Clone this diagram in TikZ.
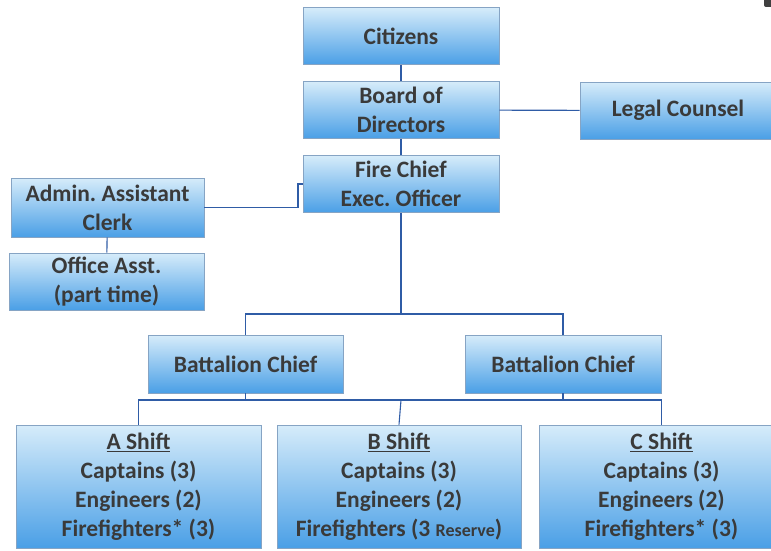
\documentclass[tikz,border=0pt]{standalone}
\usepackage{fontspec}
\setmainfont{Carlito}
\frenchspacing
\definecolor{txt}{HTML}{3A3A3A}
\definecolor{lnk}{HTML}{2F5CA6}
\definecolor{bord}{HTML}{86A4C4}
\definecolor{topc}{HTML}{D6ECFA}
\definecolor{botc}{HTML}{4A9FE6}
\begin{document}
\begin{tikzpicture}[x=1pt,y=-1pt,
  box/.style={draw=bord, line width=0.8pt, top color=topc, bottom color=botc,
    text=txt, font=\fontsize{23.5}{29}\selectfont\bfseries\frenchspacing, align=center,
    inner sep=0pt, minimum width=196pt, minimum height=57pt},
  shiftbox/.style={box, minimum width=245pt, minimum height=123pt},
  link/.style={draw=lnk, line width=1.1pt}]
\useasboundingbox (0,0) rectangle (771,551);
\fill[black!75, rounded corners=2pt] (764,-4) rectangle (775,7);
\node[box] (cit) at (401,36) {Citizens};
\node[box] (board) at (401,110) {Board of\\Directors};
\node[box] (legal) at (678,110.5) {Legal Counsel};
\node[box] (chief) at (401,184) {Fire Chief\\Exec.\ Officer};
\node[box, minimum width=193pt, minimum height=59pt] (admin) at (107.5,207.5) {Admin.\ Assistant\\Clerk};
\node[box, minimum width=195pt] (office) at (106.5,281.5) {Office Asst.\\(part time)};
\node[box, minimum width=195pt, minimum height=58pt] (bc1) at (245.5,364) {Battalion Chief};
\node[box, minimum width=196pt, minimum height=58pt] (bc2) at (563,364) {Battalion Chief};
\node[shiftbox] (a) at (138.5,486.5) {\underline{A Shift}\\Captains (3)\\Engineers (2)\\Firefighters* (3)};
\node[shiftbox, minimum width=244pt] (b) at (399,486.5) {\underline{B Shift}\\Captains (3)\\Engineers (2)\\Firefighters (3 {\fontsize{18}{29}\selectfont Reserve})};
\node[shiftbox] (c) at (661.5,486.5) {\underline{C Shift}\\Captains (3)\\Engineers (2)\\Firefighters* (3)};
\coordinate (j1) at (401,314);
\coordinate (j2) at (401,400);
\draw[link] (cit) -- (board);
\draw[link] (board) -- (chief);
\draw[link] (board) -- (legal);
\draw[link] (admin.east) -- (298,207.5) |- (chief.west);
\draw[link] (admin) -- (office);
\draw[link] (chief) -- (j1);
\draw[link] (j1) -| (bc1.north);
\draw[link] (j1) -| (bc2.north);
\draw[link] (bc1.south) |- (j2);
\draw[link] (bc2.south) |- (j2);
\draw[link] (j2) -| (a.north);
\draw[link] (j2) -- (b.north);
\draw[link] (j2) -| (c.north);
\end{tikzpicture}
\end{document}
